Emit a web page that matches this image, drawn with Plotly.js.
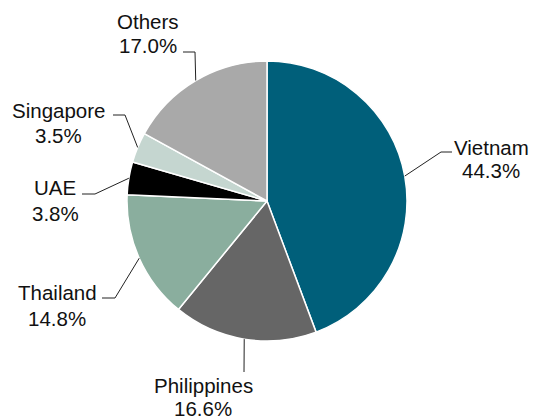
<!DOCTYPE html>
<html>
<head>
<meta charset="utf-8">
<script src="https://cdn.plot.ly/plotly-3.0.1.min.js"></script>
<style>html,body{margin:0;padding:0;background:#fff;}#chart{width:535px;height:417px;}</style>
</head>
<body>
<div id="chart"></div>
<script>
const categories = ["Vietnam", "Philippines", "Thailand", "UAE", "Singapore", "Others"];
const shares = [44.3, 16.6, 14.8, 3.8, 3.5, 17.0];
const sliceColors = ["#005f7a", "#666666", "#8aae9e", "#000000", "#c5d6d0", "#a9a9a9"];

const W = 535, H = 417;
const CX = 267, CY = 201, R = 140;

// label positions: [x centre, y of name line, y of percent line] (pixels)
const labelPos = [[491, 147, 170], [203, 385, 408], [57, 292, 318], [55, 187, 213], [58, 110, 135], [148, 21, 45]];
// leader-line elbow and end points (pixels)
const elbows = [[[441, 152], [452, 152]], [[244, 372], [244, 372]], [[115, 298], [102, 298]],
                [[95, 194], [82, 194]], [[125, 115], [113, 115]], [[195, 52], [183, 52]]];

const px = x => x / W;
const py = y => 1 - y / H;
const font = {family: "Arial, Liberation Sans, sans-serif", size: 20.5, color: "#111111"};

const total = shares.reduce((a, b) => a + b, 0);
let cum = 0;
const shapes = [], annotations = [];
shares.forEach((v, i) => {
  const mid = (cum + v / 2) / total * 2 * Math.PI;
  cum += v;
  const sx = CX + R * Math.sin(mid), sy = CY - R * Math.cos(mid);
  const [e1, e2] = elbows[i];
  shapes.push({
    type: "path", xref: "paper", yref: "paper",
    path: `M${px(sx)},${py(sy)} L${px(e1[0])},${py(e1[1])} L${px(e2[0])},${py(e2[1])}`,
    line: {color: "#222222", width: 1}
  });
  const [lx, ly1, ly2] = labelPos[i];
  annotations.push({
    xref: "paper", yref: "paper", x: px(lx), y: py(ly1),
    xanchor: "center", yanchor: "middle", showarrow: false,
    text: categories[i], font: font
  });
  annotations.push({
    xref: "paper", yref: "paper", x: px(lx), y: py(ly2),
    xanchor: "center", yanchor: "middle", showarrow: false,
    text: v.toFixed(1) + "%", font: font
  });
});

const data = [{
  type: "pie", labels: categories, values: shares, sort: false, direction: "clockwise",
  rotation: 0, textinfo: "none", hoverinfo: "label+percent",
  marker: {colors: sliceColors, line: {color: "#ffffff", width: 1.5}},
  domain: {x: [(CX - R) / W, (CX + R) / W], y: [1 - (CY + R) / H, 1 - (CY - R) / H]}
}];

const layout = {
  width: W, height: H, margin: {l: 0, r: 0, t: 0, b: 0},
  showlegend: false, paper_bgcolor: "#ffffff",
  shapes: shapes, annotations: annotations
};
Plotly.newPlot("chart", data, layout, {displayModeBar: false, staticPlot: true});
</script>
</body>
</html>
